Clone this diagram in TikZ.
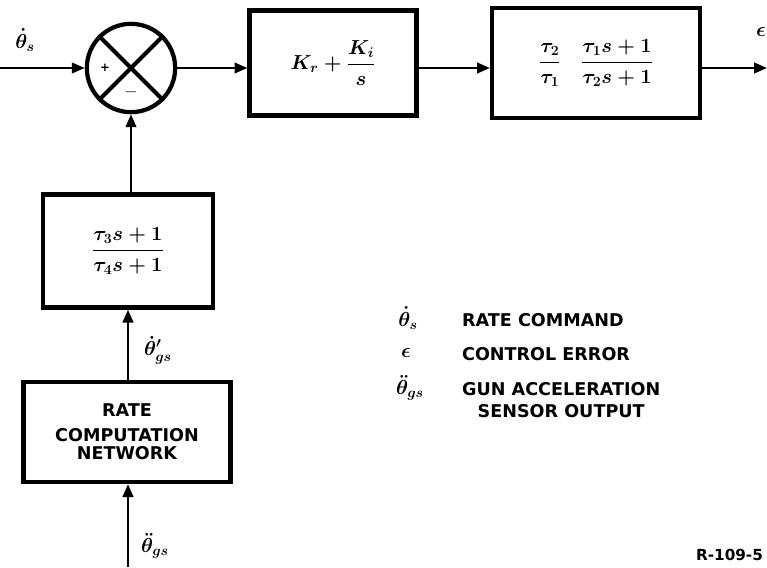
\documentclass[tikz,border=0pt]{standalone}
\usepackage{amsmath,amssymb}
\usepackage{fontspec}
\setmainfont{DejaVu Sans}
\usepackage{tikz}
\usetikzlibrary{arrows.meta,calc}

\begin{document}
\begin{tikzpicture}[x=0.03cm,y=-0.03cm,>={Triangle[length=11pt,width=9pt]},
  box/.style={draw,line width=3.6pt,align=center,inner sep=2pt,font=\fontsize{15}{21}\selectfont\bfseries\boldmath},
  conn/.style={line width=2pt},
  lbl/.style={font=\LARGE\boldmath},
  leg/.style={anchor=west,font=\fontsize{15}{19}\selectfont\bfseries,align=center}]
  \useasboundingbox (0,0) rectangle (767,567);
  % ---- forward path ----
  \coordinate (in) at (0,68);
  \node[draw,circle,line width=3.6pt,minimum size=2.65cm,inner sep=0pt] (sum) at (131,68) {};
  \draw[line width=3.6pt] (sum.north west) -- (sum.south east);
  \draw[line width=3.6pt] (sum.north east) -- (sum.south west);
  \node[font=\bfseries] (plus) at (105,68) {+};
  \node[font=\Large\bfseries] (minus) at (131,92) {$-$};
  \node[box,minimum width=5.01cm,minimum height=3.15cm] (ctrl) at (333,63)
    {\LARGE$K_r + \dfrac{K_i}{s}$};
  \node[box,minimum width=6.24cm,minimum height=3.3cm] (lead) at (596,63)
    {\LARGE$\dfrac{\tau_2}{\tau_1}\quad\dfrac{\tau_1 s+1}{\tau_2 s+1}$};
  \coordinate (out) at (767,68);
  \draw[conn,->] (in) -- (sum.west);
  \draw[conn,->] (sum.east) -- (sum.east -| ctrl.west);
  \draw[conn,->] (ctrl.east |- sum) -- (sum -| lead.west);
  \draw[conn,->] (lead.east |- sum) -- (out);
  \node[lbl] (thsin) at (25,40) {$\dot{\theta}_s$};
  \node[lbl,anchor=west] (eps) at (752,32) {$\epsilon$};
  % ---- feedback path ----
  \node[box,minimum width=5.1cm,minimum height=3.39cm] (comp) at (128,251)
    {\LARGE$\dfrac{\tau_3 s+1}{\tau_4 s+1}$};
  \node[box,minimum width=6.21cm,minimum height=3cm] (rcn) at (127,432)
    {RATE\\COMPUTATION\\[-5pt]NETWORK};
  \coordinate (gsin) at (128,567);
  \draw[conn,->] (comp.north -| sum) -- (sum.south);
  \draw[conn,->] (rcn.north -| comp) -- (comp.south);
  \draw[conn,->] (gsin) -- (gsin |- rcn.south);
  \node[lbl] (thgsp) at (158,350) {$\dot{\theta}'_{gs}$};
  \node[lbl] (thgs) at (155,546) {$\ddot{\theta}_{gs}$};
  % ---- legend ----
  \node[lbl] (k1) at (408,318) {$\dot{\theta}_s$};
  \node[leg] (t1) at (458,320) {RATE COMMAND};
  \node[lbl] (k2) at (406,353) {$\epsilon$};
  \node[leg] (t2) at (458,354) {CONTROL ERROR};
  \node[lbl] (k3) at (410,388) {$\ddot{\theta}_{gs}$};
  \node[leg,anchor=north west] (t3) at (458,378) {GUN ACCELERATION\\SENSOR OUTPUT};
  \node[font=\fontsize{13}{15}\selectfont\bfseries,anchor=east] (ref) at (767,555) {R-109-5};
\end{tikzpicture}
\end{document}
